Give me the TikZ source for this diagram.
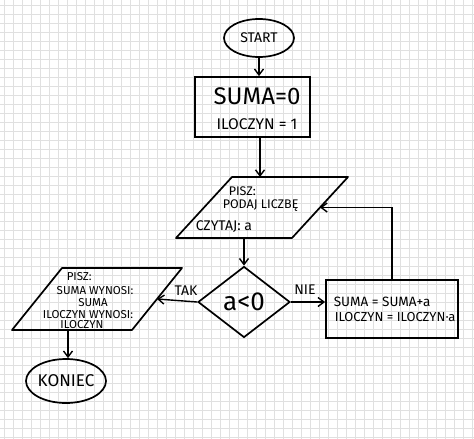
\documentclass[tikz,border=0pt]{standalone}
\usepackage{fontspec}
\setmainfont{Fira Sans}
\usetikzlibrary{shapes.geometric,arrows.meta}
\begin{document}
\begin{tikzpicture}[x=1pt,y=-1pt,
  line width=1.5pt,
  gridc/.style={draw=black!12,line width=0.5pt},
  arr/.style={-{Straight Barb[length=6pt,width=9pt]},line width=1.4pt},
  shp/.style={draw,line width=1.7pt,inner sep=0pt},
  outl/.style={draw,line width=1.7pt,line join=round},
  txt/.style={inner sep=0pt,font=\fontsize{12.5}{14}\selectfont},
  small/.style={inner sep=0pt,font=\fontsize{11.5}{13}\selectfont}]
\useasboundingbox (0,0) rectangle (474,439);
\fill[white] (0,0) rectangle (474,439);
\foreach \i in {4,13,...,474} \draw[gridc] (\i,0) -- (\i,439);
\foreach \j in {5,14,...,439} \draw[gridc] (0,\j) -- (474,\j);

% start and init box
\node[shp,ellipse,minimum width=70pt,minimum height=38pt,font=\fontsize{14}{16}\selectfont] (start) at (259,38) {START};
\node[shp,rectangle,minimum width=115pt,minimum height=60pt] (b1) at (252.5,107) {};
\node[txt,font=\fontsize{24}{26}\selectfont] (b1a) at (257,96) {SUMA=0};
\node[txt,font=\fontsize{15.5}{17}\selectfont] (b1b) at (257,124) {ILOCZYN = 1};

% input parallelogram
\coordinate (parTL) at (232,177);
\coordinate (parTR) at (348,177);
\coordinate (parBR) at (292,238);
\coordinate (parBL) at (176,238);
\coordinate (parN) at (260,177);
\coordinate (parS) at (244,238);
\coordinate (parE) at (320,207.5);
\draw[outl] (parTL) -- (parTR) -- (parBR) -- (parBL) -- cycle;
\node[txt,anchor=west] (p1) at (228,191) {PISZ:};
\node[txt,anchor=west] (p2) at (222,206) {PODAJ LICZBĘ};
\node[txt,anchor=west,font=\fontsize{14}{16}\selectfont] (p3) at (195,227) {CZYTAJ: a};

% decision
\node[shp,diamond,minimum width=92pt,minimum height=71pt,font=\fontsize{26}{28}\selectfont] (dia) at (244,302) {a<0};

% right box
\node[shp,rectangle,minimum width=132pt,minimum height=58pt] (rb) at (392,309) {};
\node[txt,anchor=west,font=\fontsize{13.5}{15}\selectfont] (r1) at (333,302) {SUMA = SUMA+a};
\node[txt,anchor=west,font=\fontsize{13}{15}\selectfont] (r2) at (334,317) {ILOCZYN = ILOCZYN·a};

% output parallelogram
\coordinate (lpTL) at (62,268);
\coordinate (lpTR) at (182,268);
\coordinate (lpBR) at (132,330);
\coordinate (lpBL) at (12,330);
\coordinate (lpE) at (157,299);
\coordinate (lpS) at (68,330);
\draw[outl] (lpTL) -- (lpTR) -- (lpBR) -- (lpBL) -- cycle;
\node[small,anchor=west] (l1) at (66,277) {PISZ:};
\node[small] (l2) at (95,291) {SUMA WYNOSI:};
\node[small] (l3) at (93,303) {SUMA};
\node[small] (l4) at (88,315) {ILOCZYN WYNOSI:};
\node[small] (l5) at (82,325) {ILOCZYN};

\node[shp,ellipse,minimum width=75pt,minimum height=44pt,font=\fontsize{17}{19}\selectfont] (kon) at (66,381) {KONIEC};

\node[txt,font=\fontsize{14}{16}\selectfont] (tak) at (186,291) {TAK};
\node[txt,font=\fontsize{14}{16}\selectfont] (nie) at (305,290) {NIE};

% connectors
\draw[arr] (start.south) -- (b1.north -| start.south);
\draw[arr] (b1.south -| parN) -- (parN);
\draw[arr] (parS) -- (parS |- dia.north);
\draw[arr] (dia.west) -- (lpE);
\draw[arr] (dia.east) -- (dia.east -| rb.west);
\draw[arr] (rb.north) |- (parE);
\draw[arr] (lpS) -- (lpS |- kon.north);
\end{tikzpicture}
\end{document}
